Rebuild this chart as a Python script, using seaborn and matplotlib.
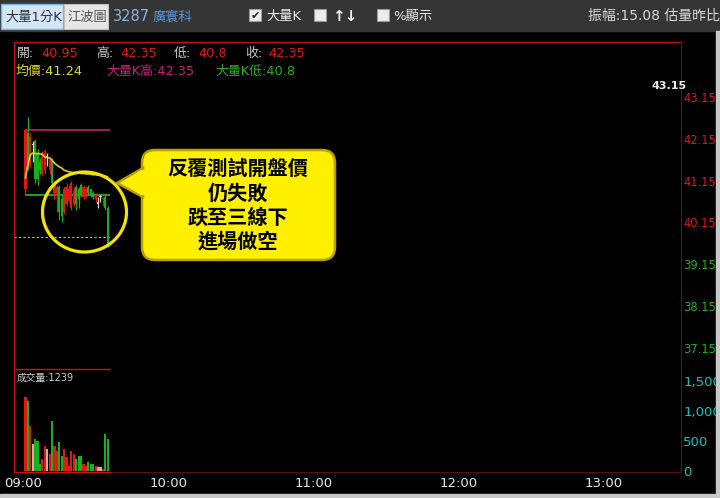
import seaborn as sns
import matplotlib.pyplot as plt
from matplotlib.patches import Rectangle, Ellipse, FancyBboxPatch, Polygon

W, H = 720, 498

# 1-minute candles 09:01 .. 09:35
minutes = list(range(1, 36))
opens = [40.95, 42.30, 41.50, 42.00, 42.10, 41.80, 41.60, 41.30, 41.40, 41.70,
         41.40, 41.65, 40.85, 40.80, 41.00, 40.70, 40.40, 40.60, 40.70, 40.50,
         40.60, 41.00, 40.95, 41.05, 40.75, 40.80, 41.00, 40.95, 40.85, 40.70,
         40.60, 40.75, 40.70, 40.75, 40.50]
highs = [42.35, 42.67, 42.30, 42.10, 42.15, 41.90, 41.70, 41.85, 41.90, 41.80,
         41.75, 41.70, 41.15, 41.05, 41.05, 40.80, 41.00, 41.10, 41.05, 41.15,
         41.00, 41.05, 41.00, 41.10, 41.05, 41.00, 41.05, 40.95, 40.90, 40.85,
         40.75, 40.80, 40.75, 40.80, 40.55]
lows = [40.80, 41.40, 41.45, 41.60, 41.10, 41.05, 41.30, 41.25, 41.30, 41.50,
        41.30, 41.00, 40.70, 40.40, 40.20, 40.15, 40.35, 40.55, 40.65, 40.45,
        40.55, 40.45, 40.50, 40.75, 40.70, 40.75, 40.80, 40.75, 40.70, 40.65,
        40.50, 40.65, 40.55, 40.45, 39.55]
closes = [42.35, 41.50, 42.20, 42.00, 41.20, 41.20, 41.40, 41.80, 41.85, 41.70,
          41.65, 41.10, 41.10, 41.00, 40.40, 40.30, 40.95, 41.00, 40.95, 41.10,
          40.90, 40.60, 40.70, 40.80, 41.00, 40.95, 40.85, 40.80, 40.75, 40.80,
          40.60, 40.75, 40.72, 40.50, 39.60]
volumes = [1239, 1170, 750, 450, 530, 500, 120, 200, 420, 370,
           280, 830, 420, 330, 480, 250, 370, 230, 90, 330,
           280, 200, 250, 250, 120, 90, 150, 120, 120, 90,
           70, 60, 40, 620, 530]
avg_price = [41.21, 41.52, 41.76, 41.81, 41.80, 41.80, 41.79, 41.78, 41.71, 41.70,
             41.69, 41.64, 41.57, 41.52, 41.48, 41.45, 41.40, 41.38, 41.36, 41.35,
             41.34, 41.33, 41.33, 41.32, 41.32, 41.31, 41.31, 41.30, 41.29, 41.29,
             41.28, 41.28, 41.27, 41.26, 41.24]

price_ticks = [43.15, 42.15, 41.15, 40.15, 39.15, 38.15, 37.15]
vol_ticks = [0, 500, 1000, 1500]
vol_labels = ['0', '500', '1,000', '1,500']
time_ticks = [0, 60, 120, 180, 240]
time_labels = ['09:00', '10:00', '11:00', '12:00', '13:00']
ref_price = 39.8
bigk_high = 42.35
bigk_low = 40.8

RED = '#e01818'
GREEN = '#18b018'
DOJI = '#d8d8d8'

sns.set_theme(style='dark', rc={'figure.facecolor': 'black', 'axes.facecolor': 'black'})
plt.rcParams['font.family'] = ['DejaVu Sans', 'Noto Sans CJK TC']

fig = plt.figure(figsize=(7.2, 4.98), dpi=100)

xmin, xmax = -3.72, 271.9
end_x = 35.9


def box(x0, y0, x1, y1):
    return [x0 / W, 1 - y1 / H, (x1 - x0) / W, (y1 - y0) / H]


def candle_color(o, c):
    if c > o:
        return RED
    if c < o:
        return GREEN
    return DOJI


colors = [candle_color(o, c) for o, c in zip(opens, closes)]

# ---- price panel
ax = fig.add_axes(box(14, 42, 681, 369))
ax.set_facecolor('black')
ax.set_xlim(xmin, xmax)
ax.set_ylim(36.643, 44.466)
for s in ax.spines.values():
    s.set_visible(False)
ax.grid(False)

ax.vlines(minutes, lows, highs, colors=colors, linewidth=0.9, zorder=3)
bottoms = [min(o, c) for o, c in zip(opens, closes)]
heights = [max(abs(c - o), 0.03) for o, c in zip(opens, closes)]
ax.bar(minutes, heights, bottom=bottoms, width=0.9, color=colors, linewidth=0, zorder=3)

sns.lineplot(x=minutes, y=avg_price, ax=ax, color='#d8d020', linewidth=1.2, zorder=4)

ax.hlines(bigk_high, 1, end_x, colors='#c0206e', linewidth=1.2, zorder=2)
ax.hlines(bigk_low, 1, end_x, colors='#20c020', linewidth=1.2, zorder=2)
ax.hlines(ref_price, xmin, end_x, colors='#b8b8b8', linewidth=0.8,
          linestyles=(0, (2, 2)), zorder=2)

ax.set_xticks([])
ax.yaxis.tick_right()
ax.set_yticks(price_ticks, [f'{p:.2f}' for p in price_ticks])
ax.tick_params(axis='y', length=0, pad=1.5, labelsize=8.3)
for lab, p in zip(ax.get_yticklabels(), price_ticks):
    lab.set_color(RED if p > ref_price else '#20b020')

# ---- volume panel
axv = fig.add_axes(box(14, 369, 681, 471))
axv.set_facecolor('black')
axv.set_xlim(xmin, xmax)
axv.set_ylim(0, 1700)
for s in axv.spines.values():
    s.set_visible(False)
axv.grid(False)
vol_colors = ['#c8b0b0' if c == DOJI else c for c in colors]
axv.bar(minutes, volumes, width=0.9, color=vol_colors, linewidth=0)
axv.yaxis.tick_right()
axv.set_yticks(vol_ticks, vol_labels)
axv.tick_params(axis='y', length=0, pad=1.5, labelsize=9.5, labelcolor='#10c0c0')
axv.set_xticks(time_ticks, time_labels)
axv.tick_params(axis='x', length=0, pad=4, labelsize=9.5, labelcolor='#e8e8e8')

# ---- overlay in pixel coordinates
ov = fig.add_axes([0, 0, 1, 1])
ov.set_xlim(0, W)
ov.set_ylim(H, 0)
ov.axis('off')
ov.patch.set_alpha(0)

# frame lines
ov.plot([14, 14], [42, 472], color='#d01010', lw=1)
ov.plot([14, 681], [42, 42], color='#c01010', lw=1)
ov.plot([681, 681], [42, 472], color='#6a1010', lw=0.8)
ov.plot([110, 681], [472, 472], color='#5a1010', lw=0.8)
ov.plot([14, 110], [472, 472], color='#d01010', lw=1)
ov.plot([14, 110], [369, 369], color='#d01010', lw=1)

# borders
ov.add_patch(Rectangle((0, 0), W, 31, color='#353535', zorder=1))
ov.add_patch(Rectangle((716, 31), 4, H - 31, color='#c8c8c8', zorder=1))
ov.add_patch(Rectangle((0, 494), W, 4, color='#c8c8c8', zorder=1))

# top bar
ov.add_patch(Rectangle((1, 4), 62, 25, facecolor='#d2e6f7', edgecolor='#7ab0e0', lw=1, zorder=2))
ov.add_patch(Rectangle((64, 4), 44, 25, facecolor='#e6e6e6', edgecolor='#c0c0c0', lw=0.8, zorder=2))
ov.text(5, 17, '大量1分K', fontsize=9.5, color='#333333', va='center', zorder=3)
ov.text(67, 17, '江波圖', fontsize=9.5, color='#555555', va='center', zorder=3)
ov.text(113, 16, '3287', fontsize=10.5, color='#8ab4dc', va='center', zorder=3)
ov.text(153, 17, '廣寰科', fontsize=9.5, color='#5a96d8', va='center', zorder=3)
for bx in [249, 314, 377]:
    ov.add_patch(Rectangle((bx, 9), 12, 12, facecolor='#ececec', edgecolor='#999999', lw=0.8, zorder=2))
ov.text(255, 15.5, '✔', fontsize=8, color='#222222', ha='center', va='center', zorder=3)
ov.text(266, 16, '大量K', fontsize=9.5, color='#f0f0f0', va='center', zorder=3)
ov.text(332, 16, '↑↓', fontsize=11, color='#f0f0f0', va='center', fontweight='bold', zorder=3)
ov.text(393, 16, '%顯示', fontsize=9.5, color='#e8e8e8', va='center', zorder=3)
ov.text(588, 16, '振幅:15.08 估量昨比', fontsize=10, color='#d8d8d8', va='center', zorder=3)

# info lines
lab_c = '#c8c8c8'
for x, t, c in [(17, '開:', lab_c), (41, '40.95', RED), (96, '高:', lab_c), (120, '42.35', RED),
                (174, '低:', lab_c), (198, '40.8', RED), (245, '收:', lab_c), (268, '42.35', RED)]:
    ov.text(x, 53, t, fontsize=9.3, color=c, va='center')
ov.text(16, 71, '均價:41.24', fontsize=9.3, color='#e0d820', va='center')
ov.text(106, 71, '大量K高:42.35', fontsize=9.3, color='#c8207a', va='center')
ov.text(215, 71, '大量K低:40.8', fontsize=9.3, color='#20b020', va='center')
ov.text(652, 86, '43.15', fontsize=8, color='#f0f0f0', fontweight='bold', va='center')
ov.text(17, 378, '成交量:1239', fontsize=7, color='#d0d0d0', va='center')

# annotation
ov.add_patch(Ellipse((84.5, 212), 84, 80, facecolor='none', edgecolor='#f0e400', lw=2.3, zorder=5))
ov.add_patch(FancyBboxPatch((142, 150), 193, 110, boxstyle='round,pad=0,rounding_size=13',
                            facecolor='#fff000', edgecolor='#b8a000', lw=1.8, zorder=6))
ov.add_patch(Polygon([(143, 168), (117, 183), (143, 197)], closed=True,
                     facecolor='#fff000', edgecolor='#b8a000', lw=1.8, zorder=6))
ov.add_patch(Polygon([(141, 170), (122, 183), (141, 195), (148, 195), (148, 170)], closed=True,
                     facecolor='#fff000', edgecolor='none', zorder=7))
for y, t in [(168, '反覆測試開盤價'), (193, '仍失敗'), (217, '跌至三線下'), (241, '進場做空')]:
    ov.text(238, y, t, fontsize=14.5, color='black', ha='center', va='center',
            fontweight='bold', family=['Noto Sans CJK TC'], zorder=8)

fig.savefig('out.png', dpi=100, facecolor='black')
